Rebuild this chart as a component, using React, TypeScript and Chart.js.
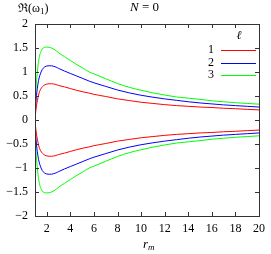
import React, { useEffect, useRef } from "react";
import { Chart, registerables } from "chart.js";

Chart.register(...registerables);

const rValues = [1.0, 1.05, 1.1, 1.2, 1.3, 1.4, 1.55, 1.7, 1.85, 2.0, 2.2, 2.4, 2.7, 3.0, 3.5, 4.0, 4.5, 5.0, 5.6, 6.0, 7.0, 8.0, 9.0, 10, 11, 12, 13, 14, 15, 16, 17, 18, 19, 20];
const ell1Values = [0.0, 0.14, 0.25, 0.4, 0.52, 0.6, 0.67, 0.71, 0.735, 0.748, 0.755, 0.755, 0.745, 0.72, 0.69, 0.655, 0.62, 0.59, 0.56, 0.535, 0.49, 0.44, 0.405, 0.37, 0.345, 0.32, 0.3, 0.285, 0.27, 0.26, 0.245, 0.235, 0.222, 0.21];
const ell2Values = [0.0, 0.25, 0.44, 0.66, 0.82, 0.92, 1.02, 1.08, 1.11, 1.125, 1.13, 1.128, 1.11, 1.075, 1.02, 0.97, 0.92, 0.87, 0.81, 0.775, 0.7, 0.625, 0.565, 0.515, 0.475, 0.44, 0.41, 0.38, 0.355, 0.335, 0.315, 0.3, 0.285, 0.27];
const ell3Values = [0.0, 0.4, 0.7, 1.0, 1.22, 1.35, 1.45, 1.5, 1.518, 1.52, 1.515, 1.5, 1.46, 1.4, 1.32, 1.24, 1.16, 1.09, 1.0, 0.96, 0.86, 0.76, 0.68, 0.62, 0.565, 0.52, 0.48, 0.455, 0.43, 0.4, 0.38, 0.36, 0.345, 0.33];
const ellLabels = ["1", "2", "3"];
const ellColors = ["#ff0000", "#0000ff", "#00ff00"];
const xTicks = [2, 4, 6, 8, 10, 12, 14, 16, 18, 20];
const yTicks = [-2, -1.5, -1, -0.5, 0, 0.5, 1, 1.5, 2];

const SERIF = "'Liberation Serif', 'DejaVu Serif', serif";

function fmt(v: number): string {
  const s = String(Math.abs(v));
  return v < 0 ? "\u2212" + s : s;
}

export default function App() {
  const ref = useRef<HTMLCanvasElement | null>(null);

  useEffect(() => {
    const canvas = ref.current;
    if (!canvas) return;
    const series = [ell1Values, ell2Values, ell3Values];
    const datasets: any[] = [];
    series.forEach((vals, i) => {
      datasets.push({
        label: ellLabels[i],
        data: rValues.map((r, k) => ({ x: r, y: vals[k] })),
        borderColor: ellColors[i],
        borderWidth: 1,
        pointRadius: 0,
        cubicInterpolationMode: "monotone",
        fill: false,
      });
    });
    series.forEach((vals, i) => {
      datasets.push({
        label: "neg" + ellLabels[i],
        data: rValues.map((r, k) => ({ x: r, y: -vals[k] })),
        borderColor: ellColors[i],
        borderWidth: 1,
        pointRadius: 0,
        cubicInterpolationMode: "monotone",
        fill: false,
      });
    });

    const decor = {
      id: "decor",
      afterDraw(chart: any) {
        const ctx = chart.ctx;
        const a = chart.chartArea;
        const xs = chart.scales.x;
        const ys = chart.scales.y;
        ctx.save();
        ctx.strokeStyle = "#333333";
        ctx.lineWidth = 1;
        ctx.strokeRect(Math.round(a.left) + 0.5, Math.round(a.top) + 0.5, Math.round(a.right - a.left), Math.round(a.bottom - a.top));
        ctx.beginPath();
        const tl = 4;
        xTicks.forEach((t) => {
          const px = Math.round(xs.getPixelForValue(t)) + 0.5;
          ctx.moveTo(px, a.bottom);
          ctx.lineTo(px, a.bottom - tl);
          ctx.moveTo(px, a.top);
          ctx.lineTo(px, a.top + tl);
        });
        yTicks.forEach((t) => {
          const py = Math.round(ys.getPixelForValue(t)) + 0.5;
          ctx.moveTo(a.left, py);
          ctx.lineTo(a.left + tl, py);
          ctx.moveTo(a.right, py);
          ctx.lineTo(a.right - tl, py);
        });
        ctx.stroke();

        ctx.fillStyle = "#000000";
        ctx.textBaseline = "middle";
        // Title N = 0
        ctx.font = "italic 13px " + SERIF;
        ctx.textAlign = "left";
        const tx = 130;
        ctx.fillText("N", tx, 8);
        const nw = ctx.measureText("N").width;
        ctx.font = "13px " + SERIF;
        ctx.fillText(" = 0", tx + nw, 8);

        // y label
        ctx.font = "12px " + SERIF;
        ctx.fillText("\u211C(\u03C9", 18, 9);
        const w1 = ctx.measureText("\u211C(\u03C9").width;
        ctx.font = "9px " + SERIF;
        ctx.fillText("1", 18 + w1, 12);
        const w2 = ctx.measureText("1").width;
        ctx.font = "12px " + SERIF;
        ctx.fillText(")", 18 + w1 + w2, 9);

        // x label r_m
        ctx.font = "italic 13px " + SERIF;
        ctx.fillText("r", 143, 245);
        const rw = ctx.measureText("r").width;
        ctx.font = "italic 9px " + SERIF;
        ctx.fillText("m", 143 + rw, 248);

        // legend
        ctx.font = "italic 12px " + SERIF;
        ctx.textAlign = "center";
        ctx.fillText("\u2113", 239, 36);
        ctx.font = "12px " + SERIF;
        ctx.textAlign = "right";
        for (let i = 0; i < 3; i++) {
          const ly = 50 + i * 12.5;
          ctx.fillStyle = "#000000";
          ctx.fillText(chart.data.datasets[i].label, 214, ly);
          ctx.strokeStyle = chart.data.datasets[i].borderColor;
          ctx.beginPath();
          ctx.moveTo(221, Math.round(ly) + 0.5);
          ctx.lineTo(256, Math.round(ly) + 0.5);
          ctx.stroke();
        }
        ctx.restore();
      },
    };

    const chart = new Chart(canvas, {
      type: "line",
      data: { datasets },
      plugins: [decor],
      options: {
        animation: false,
        responsive: false,
        maintainAspectRatio: false,
        layout: { padding: { top: 24, right: 8, left: 0, bottom: 0 } },
        plugins: { legend: { display: false }, tooltip: { enabled: false }, title: { display: false } },
        scales: {
          x: {
            type: "linear",
            min: 1,
            max: 20,
            afterFit(scale: any) { scale.height = 38; },
            afterBuildTicks(scale: any) { scale.ticks = xTicks.map((v) => ({ value: v })); },
            grid: { display: false, drawTicks: false },
            border: { display: false },
            ticks: {
              padding: 6,
              color: "#000000",
              font: { family: SERIF, size: 12 },
              maxRotation: 0,
              callback: (v: any) => fmt(Number(v)),
            },
          },
          y: {
            type: "linear",
            min: -2,
            max: 2,
            afterFit(scale: any) { scale.width = 35; },
            afterBuildTicks(scale: any) { scale.ticks = yTicks.map((v) => ({ value: v })); },
            grid: { display: false, drawTicks: false },
            border: { display: false },
            ticks: {
              padding: 7,
              color: "#000000",
              font: { family: SERIF, size: 12 },
              callback: (v: any) => fmt(Number(v)),
            },
          },
        },
      },
    });
    return () => chart.destroy();
  }, []);

  return (
    <div style={{ position: "absolute", left: 0, top: 0, width: 271, height: 254, background: "#ffffff" }}>
      <canvas ref={ref} width={271} height={254} style={{ width: 271, height: 254 }} />
    </div>
  );
}
